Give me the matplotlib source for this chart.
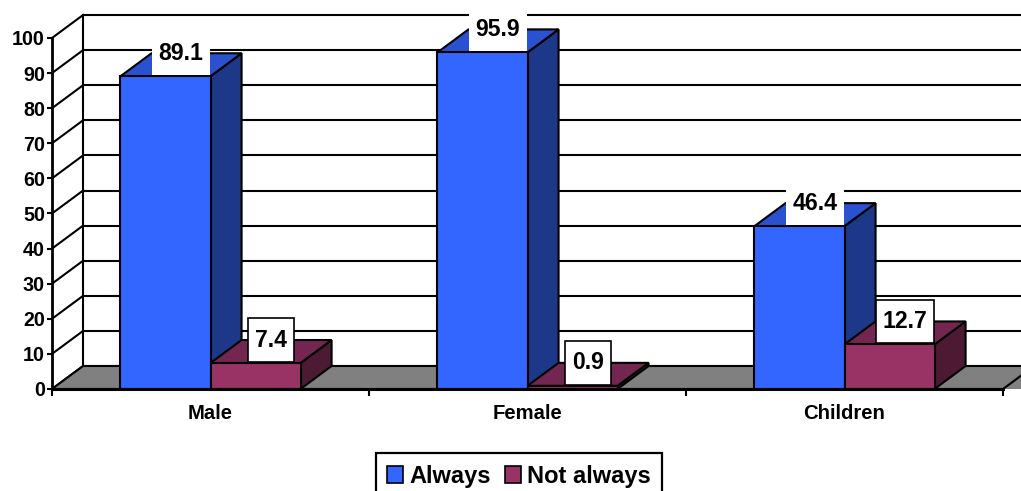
import matplotlib
matplotlib.use("Agg")
import matplotlib.pyplot as plt
from matplotlib.patches import Polygon, Patch
from matplotlib.path import Path

# ---- data -------------------------------------------------------------
categories = ["Male", "Female", "Children"]
series_names = ["Always", "Not always"]
always = [89.1, 95.9, 46.4]
not_always = [7.4, 0.9, 12.7]
y_ticks = [0, 10, 20, 30, 40, 50, 60, 70, 80, 90, 100]

# ---- styling ----------------------------------------------------------
front_colors = ["#3366FF", "#993366"]
top_colors = ["#2A52D0", "#732650"]
side_colors = ["#1D3888", "#4D1A33"]
floor_color = "#808080"

DX, DY = 0.098, 6.55          # depth offset of the pseudo-3D box (data units)
BAR_W = 0.284                  # width of one column
GROUP_OFF = 0.216              # gap between category edge and first column
LW = 1.5

plt.rcParams["font.family"] = ["Liberation Sans", "DejaVu Sans"]
plt.rcParams["font.weight"] = "bold"


def label_box(x0, y0, width, height, mutation_size):
    """Rectangular label frame with separate horizontal/vertical padding."""
    px = 0.3 * mutation_size
    py = 0.45 * mutation_size
    x0, y0 = x0 - px, y0 - py
    x1, y1 = x0 + width + 2 * px, y0 + height + 2 * py
    return Path([(x0, y0), (x1, y0), (x1, y1), (x0, y1), (x0, y0)],
                closed=True)


fig = plt.figure(figsize=(10.21, 4.91), dpi=100)
ax = fig.add_axes([52 / 1021, 102 / 491, 951 / 1021, 374 / 491])
n = len(categories)
ax.set_xlim(0, n)
ax.set_ylim(0, y_ticks[-1] + DY)

# back wall and side wall grid
far_right = n + DX + 0.3
for t in y_ticks:
    ax.plot([DX, far_right], [t + DY, t + DY], color="black", lw=LW,
            clip_on=False, zorder=1, solid_capstyle="butt")
    ax.plot([0, DX], [t, t + DY], color="black", lw=LW,
            clip_on=False, zorder=1)
ax.plot([DX, DX], [DY, y_ticks[-1] + DY], color="black", lw=LW,
        clip_on=False, zorder=1)

# floor
floor = Polygon([(0, 0), (n + 0.3, 0), (n + 0.3 + DX, DY), (DX, DY)],
                closed=True, facecolor=floor_color, edgecolor="none",
                clip_on=False, zorder=2)
ax.add_patch(floor)
floor_edge = Polygon([(0, 0), (n, 0), (n + DX, DY), (DX, DY)],
                     closed=True, facecolor="none", edgecolor="black",
                     lw=LW, clip_on=False, zorder=2)
ax.add_patch(floor_edge)

# columns
series_values = [always, not_always]
for s, vals in enumerate(series_values):
    lefts = [c + GROUP_OFF + s * BAR_W for c in range(n)]
    bars = ax.bar(lefts, vals, width=BAR_W, align="edge",
                  color=front_colors[s], edgecolor="black", lw=LW,
                  label=series_names[s], clip_on=False)
    for c, (rect, v) in enumerate(zip(bars, vals)):
        base = 5 + c * 10 + s * 4
        x0 = rect.get_x()
        x1 = x0 + rect.get_width()
        rect.set_zorder(base + 2)
        top = Polygon([(x0, v), (x1, v), (x1 + DX, v + DY), (x0 + DX, v + DY)],
                      closed=True, facecolor=top_colors[s], edgecolor="black",
                      lw=LW, clip_on=False, zorder=base + 1)
        side = Polygon([(x1, 0), (x1 + DX, DY), (x1 + DX, v + DY), (x1, v)],
                       closed=True, facecolor=side_colors[s], edgecolor="black",
                       lw=LW, clip_on=False, zorder=base)
        ax.add_patch(side)
        ax.add_patch(top)
        ax.text(x0 + BAR_W / 2 + DX / 2, v + DY, f"{v}", ha="center",
                va="center", fontsize=16.6, fontweight="bold", zorder=100,
                bbox=dict(boxstyle=label_box, facecolor="white",
                          edgecolor=("none" if s == 0 else "black"),
                          lw=1.2))

# axes
for side_name in ["top", "right"]:
    ax.spines[side_name].set_visible(False)
ax.spines["left"].set_bounds(0, y_ticks[-1])
ax.spines["left"].set_linewidth(2)
ax.spines["bottom"].set_linewidth(2.2)
ax.spines["left"].set_zorder(60)
ax.spines["bottom"].set_zorder(60)
ax.set_yticks(y_ticks)
ax.set_yticklabels([str(t) for t in y_ticks])
ax.tick_params(axis="y", direction="out", length=3.6, width=1.5,
               labelsize=14.2, pad=1.5)
ax.set_xticks(range(n + 1))
ax.set_xticklabels([""] * (n + 1))
ax.set_xticks([c + 0.5 for c in range(n)], minor=True)
ax.set_xticklabels(categories, minor=True)
ax.tick_params(axis="x", which="major", direction="out", length=5, width=1.5)
ax.tick_params(axis="x", which="minor", length=0, labelsize=14.6, pad=11)
ax.patch.set_alpha(0)

handles = [Patch(facecolor=front_colors[i], edgecolor="black", lw=1.2,
                 label=series_names[i]) for i in range(2)]
leg = fig.legend(handles=handles, loc="upper center",
                 bbox_to_anchor=(519 / 1021, 1 - 453 / 491), ncol=2,
                 frameon=True, fancybox=False, edgecolor="black",
                 framealpha=1, fontsize=17, handlelength=0.68,
                 handleheight=0.68, handletextpad=0.25, columnspacing=0.6,
                 borderpad=0.5, borderaxespad=0)
leg.get_frame().set_linewidth(1.6)

fig.savefig("out.png", dpi=100)
